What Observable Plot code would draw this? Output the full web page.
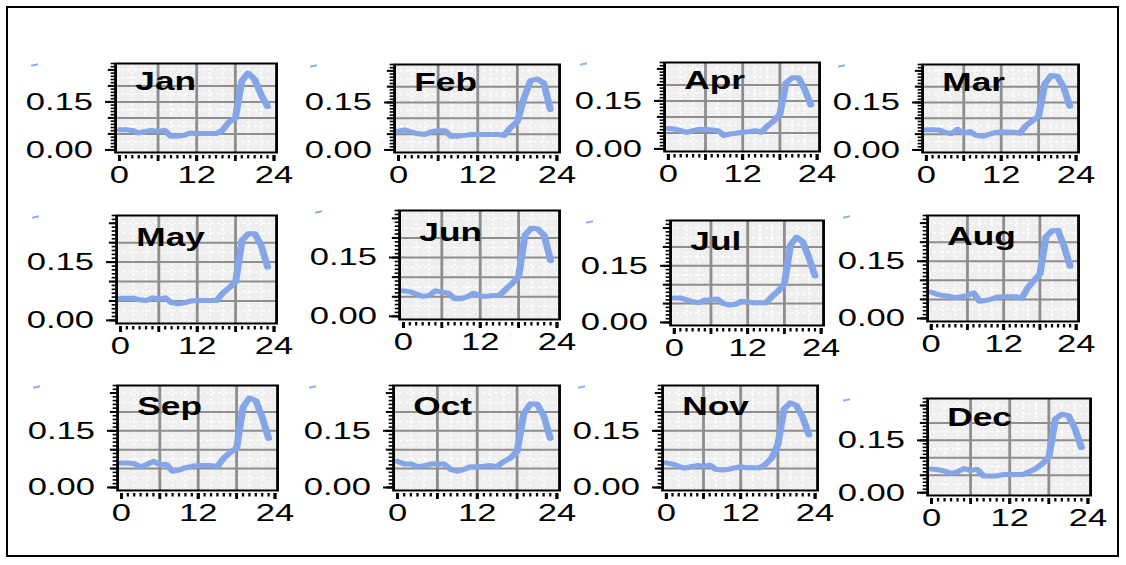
<!DOCTYPE html>
<html><head><meta charset="utf-8">
<script src="https://cdn.jsdelivr.net/npm/d3@7"></script>
<script src="https://cdn.jsdelivr.net/npm/@observablehq/plot@0.6"></script>
<style>
html,body{margin:0;padding:0;background:#fff}
body{width:1126px;height:565px;overflow:hidden;position:relative;font-family:"Liberation Sans",Arial,sans-serif}
#border{position:absolute;left:6px;top:6px;width:1113px;height:551px;border:2px solid #000;box-sizing:border-box}
.panel{position:absolute;transform-origin:0 0}
.panel svg{overflow:visible}
.dash{position:absolute;width:7px;height:1.5px;background:#8fb0ec;transform:rotate(-12deg)}
</style></head><body><div id="border"></div><div id="root"></div>
<script>
// ---- data ----
const months = ["Jan","Feb","Apr","Mar","May","Jun","Jul","Aug","Sep","Oct","Nov","Dec"];
const hours = d3.range(24);
const jan = [0.063,0.063,0.061,0.053,0.058,0.061,0.058,0.061,0.043,0.043,0.046,0.053,0.051,0.051,0.051,0.051,0.061,0.087,0.099,0.215,0.240,0.220,0.173,0.135];
const feb = [0.059,0.063,0.056,0.051,0.049,0.058,0.061,0.061,0.043,0.043,0.046,0.049,0.049,0.049,0.049,0.049,0.046,0.071,0.090,0.163,0.219,0.224,0.212,0.128];
const apr = [0.064,0.062,0.057,0.052,0.057,0.061,0.061,0.059,0.057,0.042,0.047,0.049,0.052,0.054,0.057,0.052,0.072,0.087,0.109,0.207,0.222,0.222,0.187,0.137];
const mar = [0.064,0.064,0.063,0.056,0.051,0.065,0.053,0.058,0.046,0.043,0.049,0.055,0.057,0.057,0.056,0.053,0.077,0.092,0.107,0.209,0.235,0.233,0.199,0.138];
const may = [0.057,0.057,0.057,0.053,0.051,0.058,0.055,0.058,0.045,0.043,0.045,0.050,0.051,0.051,0.051,0.051,0.070,0.084,0.099,0.206,0.223,0.223,0.193,0.137];
const jun = [0.065,0.063,0.057,0.051,0.053,0.065,0.062,0.059,0.045,0.045,0.050,0.059,0.051,0.051,0.053,0.053,0.069,0.084,0.101,0.207,0.225,0.223,0.207,0.142];
const jul = [0.065,0.065,0.060,0.055,0.052,0.059,0.060,0.062,0.050,0.046,0.048,0.056,0.054,0.052,0.052,0.052,0.069,0.083,0.102,0.205,0.226,0.214,0.172,0.123];
const aug = [0.069,0.063,0.060,0.058,0.054,0.057,0.060,0.067,0.045,0.047,0.051,0.056,0.057,0.057,0.057,0.053,0.081,0.099,0.116,0.214,0.230,0.231,0.189,0.137];
const sep = [0.065,0.065,0.063,0.054,0.061,0.069,0.061,0.061,0.043,0.046,0.052,0.056,0.058,0.058,0.058,0.055,0.078,0.093,0.104,0.212,0.237,0.230,0.186,0.130];
const oct = [0.069,0.062,0.062,0.055,0.058,0.062,0.062,0.062,0.048,0.043,0.048,0.055,0.055,0.056,0.058,0.055,0.069,0.078,0.095,0.195,0.221,0.221,0.191,0.130];
const nov = [0.065,0.062,0.056,0.051,0.055,0.058,0.056,0.059,0.048,0.046,0.048,0.052,0.055,0.052,0.052,0.052,0.061,0.078,0.113,0.208,0.224,0.217,0.186,0.139];
const dec = [0.068,0.066,0.062,0.055,0.060,0.069,0.064,0.067,0.048,0.048,0.048,0.052,0.052,0.052,0.052,0.060,0.069,0.083,0.101,0.212,0.225,0.221,0.184,0.129];
const values = {Jan: jan, Feb: feb, Apr: apr, Mar: mar, May: may, Jun: jun, Jul: jul, Aug: aug, Sep: sep, Oct: oct, Nov: nov, Dec: dec};
const xTickLabels = [0, 12, 24];
const yTickLabels = [0, 0.15];

// ---- layout (panel frame boxes in page pixels) ----
const frames = {
  Jan: [115, 276, 63, 152], Feb: [394, 559, 64, 152], Apr: [664, 819, 62, 151], Mar: [922, 1078, 64, 152],
  May: [116, 276, 215, 323], Jun: [399, 559, 210, 319], Jul: [670, 823, 220, 325], Aug: [927, 1078, 215, 321],
  Sep: [117, 277, 385, 490], Oct: [393, 559, 385, 490], Nov: [662, 817, 385, 490], Dec: [927, 1090, 398, 495]
};
const sx = 1.41;
const mL = 68, mR = 14, mT = 4, mB = 42;
const font = "Liberation Sans, Arial, Helvetica, sans-serif";
const gridColor = "#8e8e8e";
const lineColor = "#84a6e8";

const root = document.getElementById("root");
for (const m of months) {
  const [L, R, T, B] = frames[m];
  const fw = (R - L) / sx, fh = B - T;
  const data = hours.map((h, i) => ({hour: h, value: values[m][i]}));
  const chart = Plot.plot({
    width: mL + fw + mR, height: mT + fh + mB,
    marginLeft: mL, marginRight: mR, marginTop: mT, marginBottom: mB,
    style: {fontFamily: font, background: "transparent", overflow: "visible", color: "#000"},
    x: {domain: [-0.6, 24.4]},
    y: {domain: [-0.008, 0.27]},
    marks: [
      Plot.frame({fill: "#efefef", stroke: null}),
      Plot.gridX([2,4,8,10,14,16,20,22], {stroke: "#fff", strokeOpacity: 1, strokeWidth: 1.5, strokeDasharray: "2,2.5"}),
      Plot.gridY([0.025,0.075,0.125,0.175,0.225,0.25], {stroke: "#fff", strokeOpacity: 1, strokeWidth: 1.5, strokeDasharray: "2,2.5"}),
      Plot.gridX([6,12,18], {stroke: gridColor, strokeOpacity: 1, strokeWidth: 2}),
      Plot.gridY([0.05,0.10,0.15,0.20], {stroke: gridColor, strokeOpacity: 1, strokeWidth: 2}),
      Plot.line(data, {x: "hour", y: "value", stroke: lineColor, strokeWidth: 5}),
      Plot.frame({stroke: "#000", strokeWidth: 2}),
      Plot.text([m], {frameAnchor: "top-left", dx: 14, dy: 0.205 * fh, lineAnchor: "middle", textAnchor: "start",
        fontSize: 25, fontWeight: "bold", fill: "#000"}),
      Plot.axisX(d3.range(0, 25), {tickSize: 3.5, strokeWidth: 1.6, tickFormat: () => "", label: null, dy: 3}),
      Plot.axisX([0,6,12,18,24], {tickSize: 6, strokeWidth: 2, tickFormat: () => "", label: null, dy: 3}),
      Plot.axisX(xTickLabels, {tickSize: 6, tickPadding: 4, strokeWidth: 2, fontSize: 24.5, label: null, dy: 3, tickFormat: d => String(d)}),
      Plot.axisY(d3.range(0, 28).map(i => i / 100), {tickSize: 3, strokeWidth: 1.6, tickFormat: () => "", label: null}),
      Plot.axisY([0,0.05,0.10,0.15,0.20,0.25], {tickSize: 5, strokeWidth: 2, tickFormat: () => "", label: null}),
      Plot.axisY(yTickLabels, {tickSize: 7, tickPadding: 9, strokeWidth: 2, fontSize: 24.5, label: null, tickFormat: d3.format(".2f")})
    ]
  });
  const div = document.createElement("div");
  div.className = "panel";
  div.style.left = (L - mL * sx) + "px";
  div.style.top = (T - mT) + "px";
  div.style.transform = `scaleX(${sx})`;
  div.appendChild(chart);
  root.appendChild(div);
  const dash = document.createElement("div");
  dash.className = "dash";
  dash.style.left = (L - 84) + "px";
  dash.style.top = (T + 1) + "px";
  root.appendChild(dash);
}
</script>
</body></html>
